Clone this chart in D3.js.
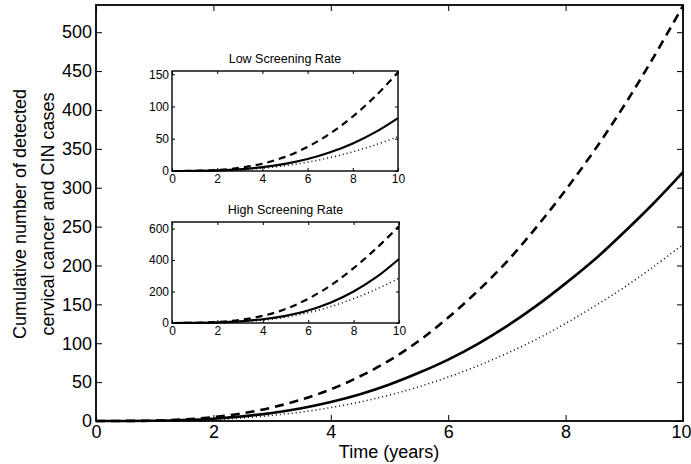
<!DOCTYPE html>
<html>
<head>
<meta charset="utf-8">
<script src="https://cdn.jsdelivr.net/npm/d3@7"></script>
<style>
  body { margin: 0; background: #fff; }
  svg { display: block; font-family: "Liberation Sans", Arial, Helvetica, sans-serif; }
  .tick line { stroke: #000; }
  .tick text { fill: #000; }
</style>
</head>
<body>
<div id="chart"></div>
<script>
// main panel, half-year steps
var mainTime = [0, 0.5, 1, 1.5, 2, 2.5, 3, 3.5, 4, 4.5, 5, 5.5, 6, 6.5, 7, 7.5, 8, 8.5, 9, 9.5, 10];
var mainDashed = [0, 0.1, 0.5, 2, 5, 10, 17.4, 27.5, 40.7, 57.5, 78, 103, 133, 167, 205, 249, 297, 349, 406, 468, 534];
var mainSolid  = [0, 0.05, 0.3, 1.2, 2.9, 6, 10.4, 16.5, 24.5, 34.5, 47, 62, 79, 99, 122, 148, 177, 208, 243, 280, 320];
var mainDotted = [0, 0.03, 0.22, 0.8, 2, 4.1, 7.2, 11.5, 17.3, 24.5, 33.4, 44, 56.5, 70.8, 87, 105, 125.5, 148, 172, 198.6, 227];

// insets, yearly steps
var insetTime = [0, 1, 2, 3, 4, 5, 6, 7, 8, 9, 10];
var lowDashed  = [0, 0.22, 1.55, 4.9, 11.3, 21.9, 37.4, 58.3, 84.5, 116, 153];
var lowSolid   = [0, 0.12, 0.83, 2.6, 5.9, 11.1, 18.6, 29, 42.7, 60.2, 82];
var lowDotted  = [0, 0.11, 0.66, 2, 4.4, 8.2, 13.7, 20.9, 29.8, 40.6, 53];
var highDashed = [0, 1.1, 6.5, 19.5, 45.5, 88.8, 153.8, 240.4, 348.7, 474.3, 615];
var highSolid  = [0, 0.6, 3.6, 10.8, 24, 45.8, 79.5, 130, 200, 291, 407];
var highDotted = [0, 0.3, 2.4, 7.6, 17.9, 36.5, 65.5, 104.8, 154.5, 214.6, 285];

var xTicks = [0, 2, 4, 6, 8, 10];
var mainYTicks = [0, 50, 100, 150, 200, 250, 300, 350, 400, 450, 500];
var lowYTicks = [0, 50, 100, 150];
var highYTicks = [0, 200, 400, 600];

var svg = d3.select("#chart").append("svg")
    .attr("width", 691)
    .attr("height", 464);

// one set of axes, MATLAB style: box, ticks pointing in on all four sides
function drawPanel(opt) {
    var x = d3.scaleLinear().domain([0, 10]).range([opt.left, opt.right]);
    var y = d3.scaleLinear().domain([0, opt.ymax]).range([opt.bottom, opt.top]);
    var g = svg.append("g");

    var lines = [
        {vals: opt.dotted, width: 1.5, dash: "1,3"},
        {vals: opt.dashed, width: opt.lineWidth, dash: opt.dash},
        {vals: opt.solid, width: opt.lineWidth, dash: null}
    ];
    var line = d3.line()
        .curve(d3.curveCatmullRom)
        .x(function(d) { return x(d[0]); })
        .y(function(d) { return y(d[1]); });

    lines.forEach(function(l) {
        g.append("path")
            .datum(opt.time.map(function(t, i) { return [t, l.vals[i]]; }))
            .attr("fill", "none")
            .attr("stroke", "#000")
            .attr("stroke-width", l.width)
            .attr("stroke-dasharray", l.dash)
            .attr("d", line);
    });

    g.append("rect")
        .attr("x", opt.left).attr("y", opt.top)
        .attr("width", opt.right - opt.left)
        .attr("height", opt.bottom - opt.top)
        .attr("fill", "none")
        .attr("stroke", "#000")
        .attr("stroke-width", opt.boxWidth);

    var bottomAxis = d3.axisBottom(x).tickValues(xTicks).tickSize(-opt.tick).tickPadding(opt.xPad);
    var leftAxis = d3.axisLeft(y).tickValues(opt.yTicks).tickSize(-opt.tick).tickPadding(opt.yPad);
    var topAxis = d3.axisTop(x).tickValues(xTicks).tickSize(-opt.tick).tickFormat("");
    var rightAxis = d3.axisRight(y).tickValues(opt.yTicks).tickSize(-opt.tick).tickFormat("");

    var ax = [
        g.append("g").attr("transform", "translate(0," + opt.bottom + ")").call(bottomAxis),
        g.append("g").attr("transform", "translate(" + opt.left + ",0)").call(leftAxis),
        g.append("g").attr("transform", "translate(0," + opt.top + ")").call(topAxis),
        g.append("g").attr("transform", "translate(" + opt.right + ",0)").call(rightAxis)
    ];
    ax.forEach(function(a) {
        a.select(".domain").remove();
        a.attr("font-size", opt.fontSize).attr("font-family", null);
        a.selectAll(".tick line").attr("stroke-width", 1);
    });

    if (opt.title) {
        g.append("text")
            .attr("x", (opt.left + opt.right) / 2)
            .attr("y", opt.top - 8)
            .attr("text-anchor", "middle")
            .attr("font-size", 12.5)
            .text(opt.title);
    }
    return ax[0];
}

var mainBottom = drawPanel({
    left: 96, right: 683, top: 5, bottom: 421, ymax: 535,
    time: mainTime, dashed: mainDashed, solid: mainSolid, dotted: mainDotted,
    yTicks: mainYTicks, tick: 6, xPad: 4, yPad: 4, fontSize: 18,
    boxWidth: 1.8, lineWidth: 2.6, dash: "9,6"
});
// keep the last "10" inside the frame, as in the original
mainBottom.selectAll(".tick text").filter(function(d) { return d === 10; }).attr("dx", -2);

drawPanel({
    left: 172, right: 398, top: 71, bottom: 171, ymax: 155,
    time: insetTime, dashed: lowDashed, solid: lowSolid, dotted: lowDotted,
    yTicks: lowYTicks, tick: 3, xPad: 3, yPad: 3, fontSize: 12,
    boxWidth: 1.4, lineWidth: 2.2, dash: "7,5", title: "Low Screening Rate"
});

drawPanel({
    left: 172, right: 399, top: 222, bottom: 323, ymax: 642,
    time: insetTime, dashed: highDashed, solid: highSolid, dotted: highDotted,
    yTicks: highYTicks, tick: 3, xPad: 3, yPad: 3, fontSize: 12,
    boxWidth: 1.4, lineWidth: 2.2, dash: "7,5", title: "High Screening Rate"
});

// axis titles
svg.append("text")
    .attr("x", 389).attr("y", 458)
    .attr("text-anchor", "middle")
    .attr("font-size", 18)
    .text("Time (years)");

var ylab = svg.append("text")
    .attr("transform", "translate(0,214) rotate(-90)")
    .attr("text-anchor", "middle")
    .attr("font-size", 18);
ylab.append("tspan").attr("x", 0).attr("y", 26).text("Cumulative number of detected");
ylab.append("tspan").attr("x", 0).attr("y", 54).text("cervical cancer and CIN cases");
</script>
</body>
</html>
